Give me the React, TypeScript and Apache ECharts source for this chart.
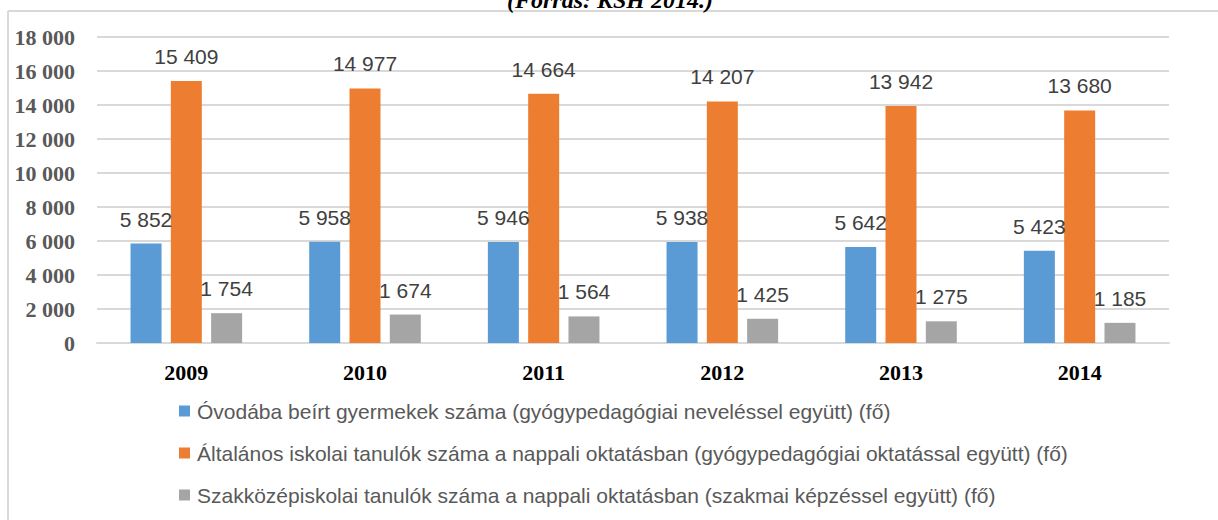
import React, { useEffect, useRef } from "react";
import * as echarts from "echarts";

const years = ["2009", "2010", "2011", "2012", "2013", "2014"];
const ovoda = [5852, 5958, 5946, 5938, 5642, 5423];
const altalanos = [15409, 14977, 14664, 14207, 13942, 13680];
const szakkozep = [1754, 1674, 1564, 1425, 1275, 1185];
const seriesNames = [
  "Óvodába beírt gyermekek száma (gyógypedagógiai neveléssel együtt) (fő)",
  "Általános iskolai tanulók száma a nappali oktatásban (gyógypedagógiai oktatással együtt) (fő)",
  "Szakközépiskolai tanulók száma a nappali oktatásban (szakmai képzéssel együtt) (fő)",
];
const colors = ["#5B9BD5", "#ED7D31", "#A5A5A5"];
const titleText = "(Forrás: KSH 2014.)";

const fmt = (v: number) => String(v).replace(/\B(?=(\d{3})+(?!\d))/g, " ");

export default function App() {
  const ref = useRef<HTMLDivElement>(null);
  useEffect(() => {
    if (!ref.current) return;
    const chart = echarts.init(ref.current, null, { renderer: "svg" });
    const data = [ovoda, altalanos, szakkozep];
    chart.setOption({
      animation: false,
      backgroundColor: "#ffffff",
      grid: { left: 97, right: 49, top: 37, bottom: 177, containLabel: false },
      graphic: [
        {
          type: "line",
          shape: { x1: 8, y1: 11, x2: 1218, y2: 11 },
          style: { stroke: "#d9d9d9", lineWidth: 2 },
        },
        {
          type: "line",
          shape: { x1: 8, y1: 11, x2: 8, y2: 520 },
          style: { stroke: "#d9d9d9", lineWidth: 2 },
        },
        {
          type: "text",
          x: 610,
          y: 0,
          style: {
            text: titleText,
            fontFamily: "Liberation Serif",
            fontWeight: "bold",
            fontStyle: "italic",
            fontSize: 24,
            fill: "#000000",
            textAlign: "center",
            textVerticalAlign: "middle",
          },
        },
      ],
      legend: {
        orient: "vertical",
        left: 174,
        top: 395,
        itemWidth: 11,
        itemHeight: 11,
        itemGap: 20,
        icon: "rect",
        textStyle: {
          fontFamily: "Liberation Sans",
          fontSize: 21,
          lineHeight: 22,
          color: "#595959",
          padding: [0, 0, 0, 2],
        },
        data: seriesNames,
      },
      xAxis: {
        type: "category",
        data: years,
        axisLine: { show: true, lineStyle: { color: "#d9d9d9", width: 2 } },
        axisTick: { show: false },
        axisLabel: {
          margin: 18,
          fontFamily: "Liberation Serif",
          fontWeight: "bold",
          fontSize: 22,
          color: "#000000",
        },
      },
      yAxis: {
        type: "value",
        min: 0,
        max: 18000,
        interval: 2000,
        axisLine: { show: false },
        axisTick: { show: false },
        splitLine: { lineStyle: { color: "#d9d9d9", width: 2 } },
        axisLabel: {
          margin: 22,
          fontFamily: "Liberation Serif",
          fontWeight: "bold",
          fontSize: 22,
          color: "#595959",
          formatter: (v: number) => fmt(v),
        },
      },
      series: seriesNames.map((name, i) => ({
        name,
        type: "bar",
        data: data[i],
        barWidth: 31,
        barGap: "30%",
        itemStyle: { color: colors[i] },
        label: {
          show: true,
          position: "top",
          distance: 14,
          fontFamily: "Liberation Sans",
          fontSize: 21,
          color: "#404040",
          formatter: (p: any) => fmt(p.value),
        },
      })),
    });
    return () => chart.dispose();
  }, []);
  return (
    <div
      ref={ref}
      style={{ position: "fixed", left: 0, top: 0, width: 1218, height: 520, background: "#fff" }}
    />
  );
}
